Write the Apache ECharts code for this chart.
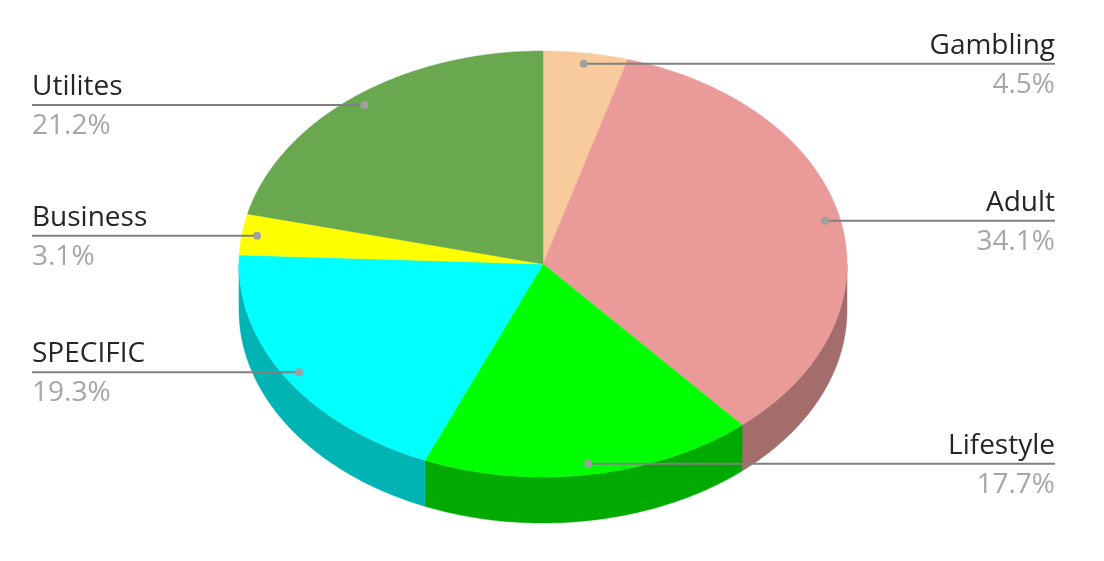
<!DOCTYPE html>
<html>
<head>
<meta charset="utf-8">
<script src="https://cdn.jsdelivr.net/npm/echarts@6/dist/echarts.min.js"></script>
<style>html,body{margin:0;padding:0;background:#fff}#c{width:1104px;height:561px}</style>
</head>
<body>
<div id="c"></div>
<script>
// ---- data ----
const categories = ['Gambling', 'Adult', 'Lifestyle', 'SPECIFIC', 'Business', 'Utilites'];
const values = [4.5, 34.1, 17.7, 19.3, 3.1, 21.2];
const topColors = ['#F8CB9C', '#EA9A98', '#00FF00', '#00FFFF', '#FFFF00', '#6AA84F'];
const sideColors = ['#AD8E6D', '#A46C6B', '#00AA00', '#00B4B4', '#B3B300', '#4A7637'];

// ---- layout (pixels) ----
const W = 1104, H = 561;
const CX = 543, CY = 264, RX = 304, RY = 213, DEPTH = 46;
const LABEL_LEFT = 32, LABEL_RIGHT = 1055, LABEL_R = 0.95;
const FONT = '28px "Open Sans", Lato, sans-serif';

const total = values.reduce((a, b) => a + b, 0);
const cum = [];
let acc = 0;
values.forEach(v => { cum.push(acc); acc += v; });
const D = DEPTH / RY;

function ang(frac) { return frac * Math.PI * 2; }
function pt(api, t, r, dy) { return api.coord([r * Math.sin(t), r * Math.cos(t) - (dy || 0)]); }

function arcPts(api, a, b, dy) {
  const n = Math.max(2, Math.ceil((b - a) / 0.01));
  const out = [];
  for (let i = 0; i <= n; i++) out.push(pt(api, a + (b - a) * i / n, 1, dy));
  return out;
}

const chart = echarts.init(document.getElementById('c'));
const sliceData = values.map((v, i) => [i, v]);

chart.setOption({
  animation: false,
  grid: { left: 0, right: 0, top: 0, bottom: 0 },
  xAxis: { type: 'value', min: -CX / RX, max: (W - CX) / RX, show: false },
  yAxis: { type: 'value', min: -(H - CY) / RY, max: CY / RY, show: false },
  series: [
    {
      type: 'custom',
      z: 1,
      data: sliceData,
      renderItem: function (params, api) {
        const i = params.dataIndex;
        const a = ang(cum[i] / total), b = ang((cum[i] + values[i]) / total);
        const children = [];
        const sa = Math.max(a, Math.PI / 2), sb = Math.min(b, Math.PI * 1.5);
        if (sb > sa) {
          const top = arcPts(api, sa, sb, 0);
          const bot = arcPts(api, sa, sb, D).reverse();
          children.push({
            type: 'polygon',
            shape: { points: top.concat(bot) },
            style: { fill: sideColors[i], stroke: sideColors[i], lineWidth: 0.5 }
          });
        }
        const pts = [api.coord([0, 0])].concat(arcPts(api, a, b, 0));
        children.push({
          type: 'polygon',
          shape: { points: pts },
          style: { fill: topColors[i], stroke: topColors[i], lineWidth: 0.5 }
        });
        return { type: 'group', children: children };
      }
    },
    {
      type: 'custom',
      z: 5,
      data: sliceData,
      renderItem: function (params, api) {
        const i = params.dataIndex;
        const m = ang((cum[i] + values[i] / 2) / total);
        const p = pt(api, m, LABEL_R, 0);
        const right = Math.sin(m) > 0;
        const x1 = right ? p[0] : LABEL_LEFT;
        const x2 = right ? LABEL_RIGHT : p[0];
        const tx = right ? LABEL_RIGHT : LABEL_LEFT;
        const align = right ? 'right' : 'left';
        const pct = (values[i] / total * 100).toFixed(1) + '%';
        return {
          type: 'group',
          children: [
            { type: 'line', shape: { x1: x1, y1: p[1], x2: x2, y2: p[1] },
              style: { stroke: '#808080', lineWidth: 2 } },
            { type: 'circle', shape: { cx: p[0], cy: p[1], r: 4 },
              style: { fill: '#A0A0A0' } },
            { type: 'text', x: tx, y: p[1] - 18,
              style: { text: categories[i], fill: '#262626', font: FONT,
                       align: align, verticalAlign: 'middle' } },
            { type: 'text', x: tx, y: p[1] + 21,
              style: { text: pct, fill: '#A6A6A6', font: FONT,
                       align: align, verticalAlign: 'middle' } }
          ]
        };
      }
    }
  ]
});
</script>
</body>
</html>
